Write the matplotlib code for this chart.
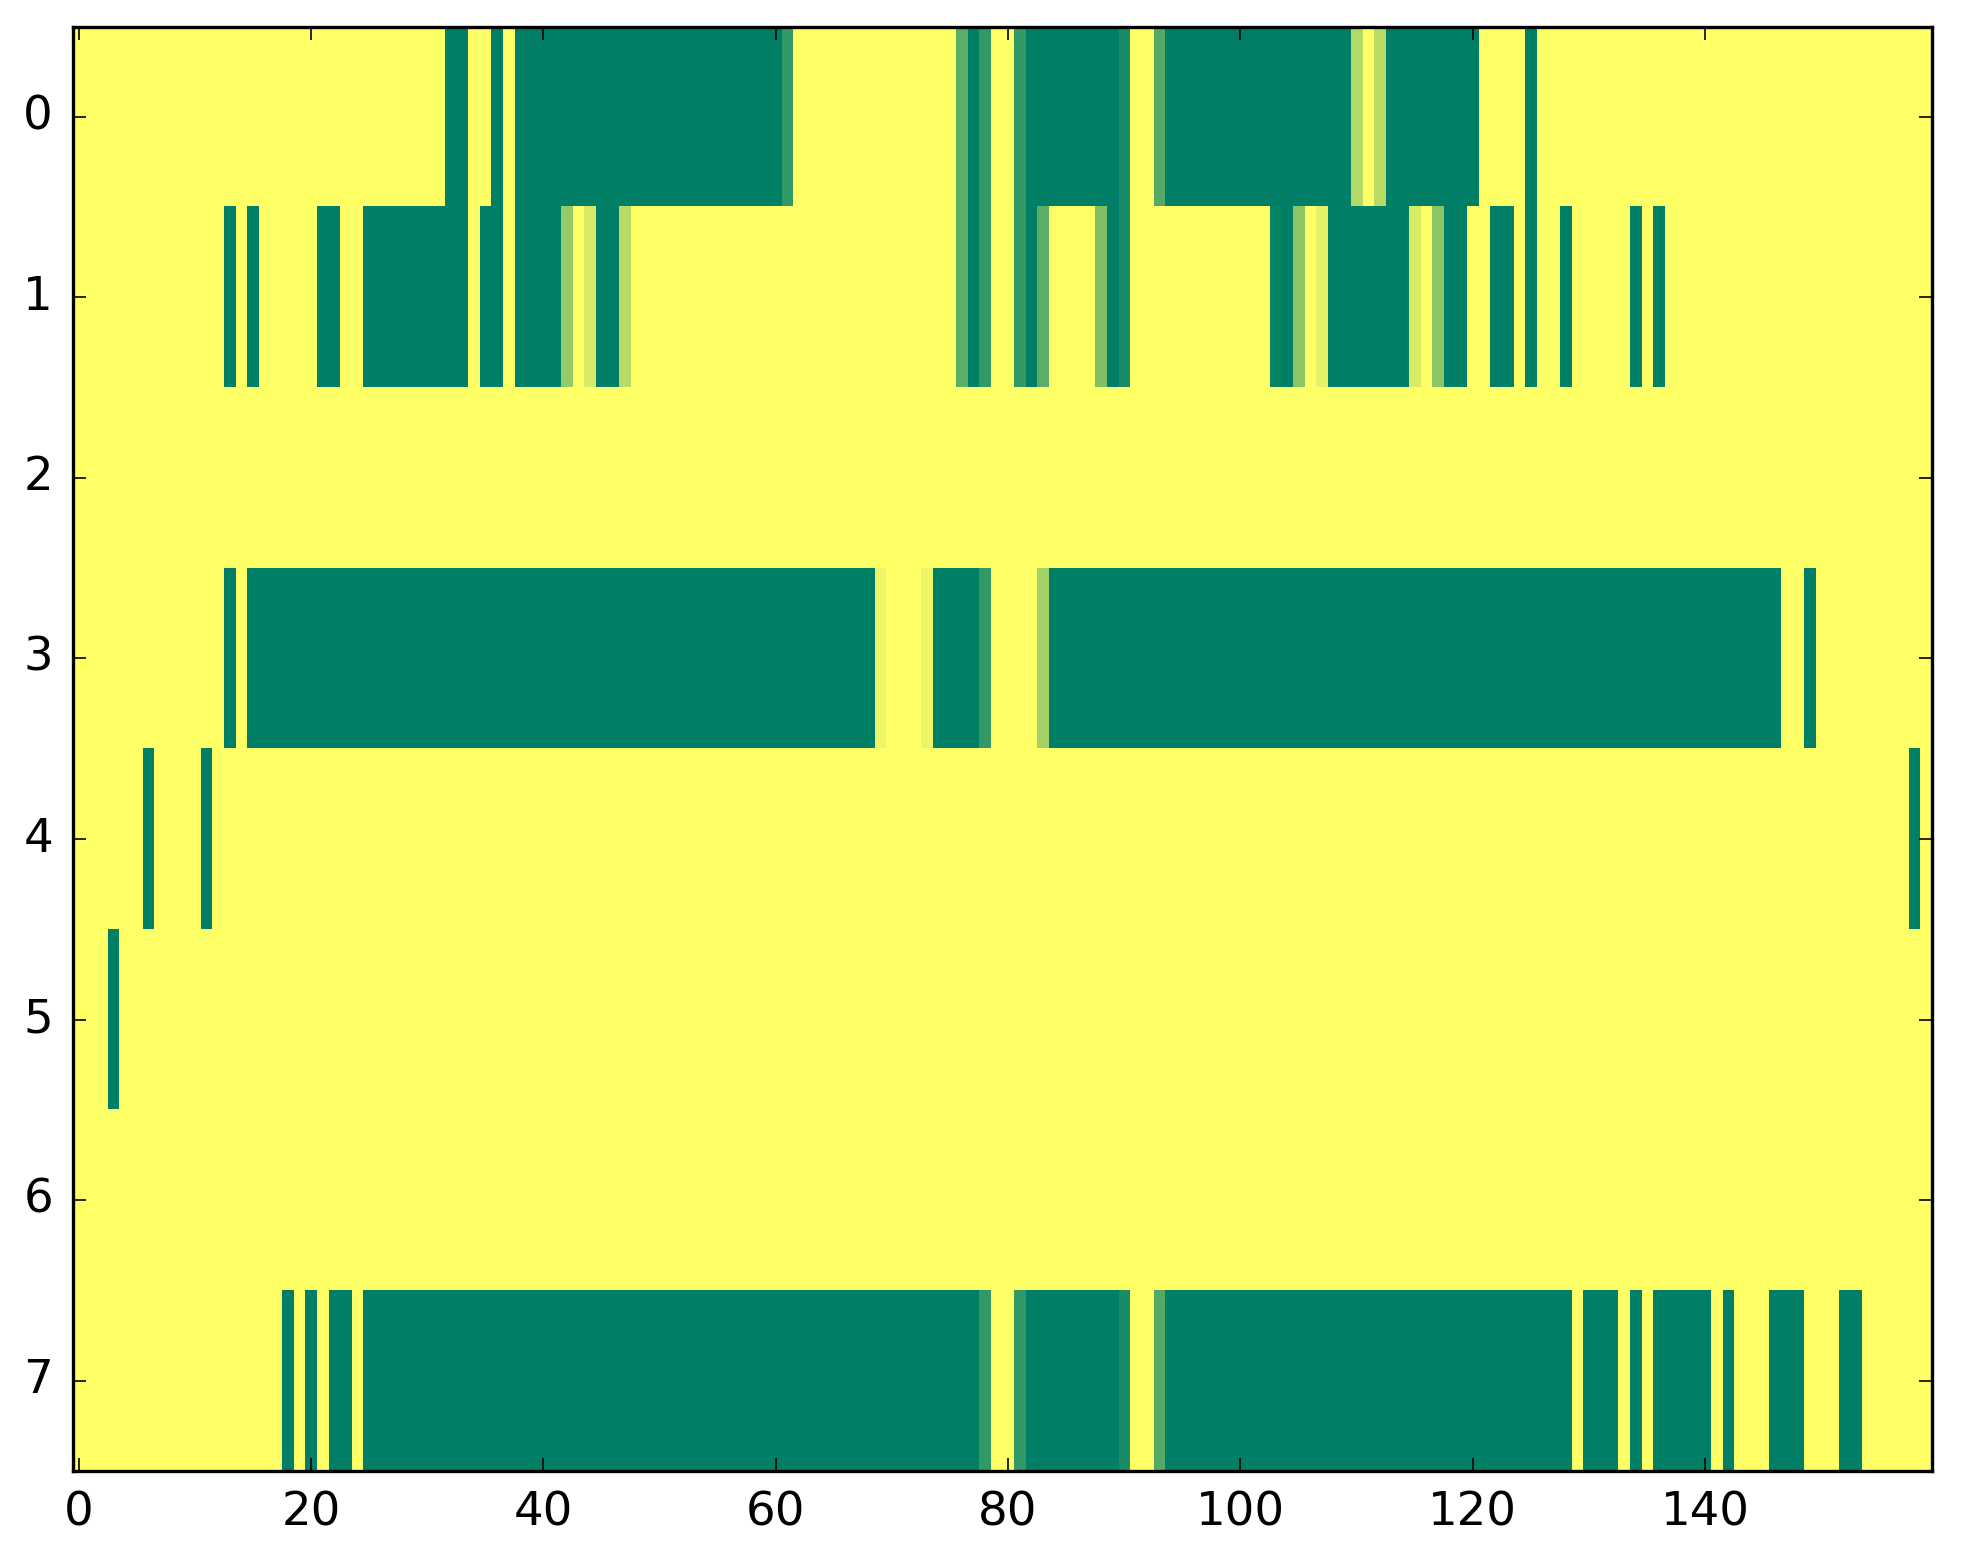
import numpy as np
import matplotlib
matplotlib.use("Agg")
import matplotlib.pyplot as plt

plt.style.use("classic")

n_rows = 8
n_cols = 160

# Runs per row: (first column, last column, value)
row0_runs = [(32, 33, 1), (36, 36, 1), (38, 60, 1), (61, 61, 0.8), (76, 76, 0.64),
             (77, 77, 1), (78, 78, 0.8), (81, 81, 0.8), (82, 89, 1), (90, 90, 0.9),
             (93, 93, 0.67), (94, 109, 1), (110, 110, 0.3), (112, 112, 0.28),
             (113, 120, 1), (125, 125, 1)]
row1_runs = [(13, 13, 1), (15, 15, 1), (21, 22, 1), (25, 33, 1), (35, 36, 1),
             (38, 41, 1), (42, 42, 0.42), (44, 44, 0.16), (45, 46, 1), (47, 47, 0.28),
             (76, 76, 0.64), (77, 77, 1), (78, 78, 0.8), (81, 81, 0.8), (82, 82, 1),
             (83, 83, 0.64), (88, 88, 0.5), (89, 89, 1), (90, 90, 0.9), (103, 103, 0.97),
             (104, 104, 1), (105, 105, 0.45), (107, 107, 0.1), (108, 114, 1),
             (115, 115, 0.15), (117, 117, 0.45), (118, 119, 1), (122, 123, 1),
             (125, 125, 1), (128, 128, 1), (134, 134, 1), (136, 136, 1)]
row2_runs = []
row3_runs = [(13, 13, 1), (15, 68, 1), (69, 69, 0.08), (73, 73, 0.08), (74, 77, 1),
             (78, 78, 0.8), (83, 83, 0.36), (84, 146, 1), (149, 149, 1)]
row4_runs = [(6, 6, 1), (11, 11, 1), (158, 158, 1)]
row5_runs = [(3, 3, 1)]
row6_runs = []
row7_runs = [(18, 18, 1), (20, 20, 1), (22, 23, 1), (25, 77, 1), (78, 78, 0.8),
             (81, 81, 0.8), (82, 89, 1), (90, 90, 0.9), (93, 93, 0.67), (94, 128, 1),
             (130, 132, 1), (134, 134, 1), (136, 140, 1), (142, 142, 1),
             (146, 148, 1), (152, 153, 1)]

all_runs = [row0_runs, row1_runs, row2_runs, row3_runs,
            row4_runs, row5_runs, row6_runs, row7_runs]

x_ticks = [0, 20, 40, 60, 80, 100, 120, 140]
y_ticks = [0, 1, 2, 3, 4, 5, 6, 7]

data = np.zeros((n_rows, n_cols))
for r, runs in enumerate(all_runs):
    for a, b, v in runs:
        data[r, a:b + 1] = v

dpi = 240
fig = plt.figure(figsize=(1963 / dpi, 1564 / dpi), dpi=dpi, facecolor="white")
ax = fig.add_axes([0.0372, 0.0595, 0.9468, 0.9235])
ax.imshow(data, cmap="summer_r", vmin=0, vmax=1, aspect="auto",
          interpolation="nearest")
ax.set_xticks(x_ticks)
ax.set_yticks(y_ticks)
ax.set_xlim(-0.5, n_cols - 0.5)
ax.set_ylim(n_rows - 0.5, -0.5)
ax.tick_params(labelsize=14, pad=6)

fig.savefig("out.png", dpi=dpi, facecolor="white")
